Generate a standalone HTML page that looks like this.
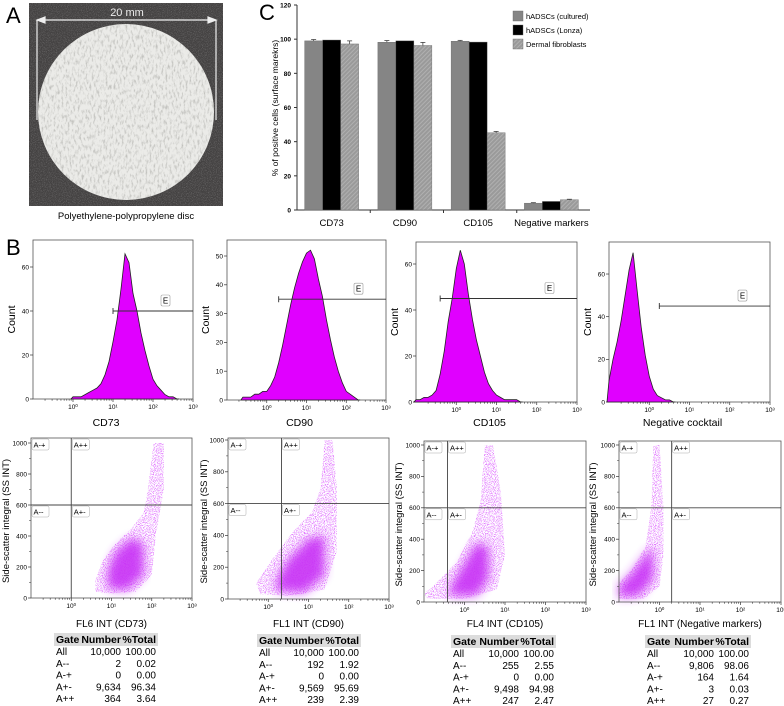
<!DOCTYPE html>
<html><head><meta charset="utf-8">
<style>
html,body{margin:0;padding:0;background:#fff;}
svg{display:block;font-family:"Liberation Sans",Arial,sans-serif;}
</style></head>
<body>
<svg id="fig" width="784" height="706" viewBox="0 0 784 706" xmlns="http://www.w3.org/2000/svg">
<defs>
<filter id="speckle" x="0" y="0" width="100%" height="100%">
<feTurbulence type="fractalNoise" baseFrequency="1.1" numOctaves="1" seed="3" result="n"/>
<feColorMatrix in="n" type="matrix" values="0 0 0 0 0  0 0 0 0 0  0 0 0 0 0  0 0 0 -7 3.6" result="m"/>
<feComposite in="SourceGraphic" in2="m" operator="in"/>
</filter>
<filter id="soft" x="-20%" y="-20%" width="140%" height="140%">
<feGaussianBlur stdDeviation="5"/>
</filter>
<filter id="fiber" x="0" y="0" width="100%" height="100%">
<feTurbulence type="fractalNoise" baseFrequency="0.5 0.2" numOctaves="3" seed="5" result="n"/>
<feColorMatrix in="n" type="matrix" values="0 0 0 0 0.35  0 0 0 0 0.35  0 0 0 0 0.33  0 0 0 -3 1.55" result="c"/>
<feComposite in="c" in2="SourceGraphic" operator="in"/>
</filter>
<filter id="grain" x="0" y="0" width="100%" height="100%">
<feTurbulence type="fractalNoise" baseFrequency="1.2" numOctaves="1" seed="7" result="n"/>
<feColorMatrix in="n" type="matrix" values="0 0 0 0 0.6  0 0 0 0 0.6  0 0 0 0 0.6  0 0 0 -3 1.6" result="c"/>
<feComposite in="c" in2="SourceGraphic" operator="in"/>
</filter>
<pattern id="hatch" width="3" height="3" patternUnits="userSpaceOnUse" patternTransform="rotate(45)">
<rect width="3" height="3" fill="#9a9a9a"/><rect width="1" height="3" fill="#b0b0b0"/>
</pattern>
</defs>

<!-- Panel A -->
<g>
<text x="6" y="23" font-size="22">A</text>
<rect x="29" y="3" width="194" height="203" fill="#444242"/>
<rect x="29" y="3" width="194" height="203" fill="#444242" filter="url(#grain)" opacity="0.3"/>
<circle cx="126" cy="112" r="88" fill="#ebebe8"/>
<circle cx="126" cy="112" r="88" fill="#ebebe8" filter="url(#fiber)" opacity="0.55"/>
<g stroke="#eee" stroke-width="1.2" fill="none">
<line x1="37" y1="20" x2="216" y2="20"/>
<line x1="37" y1="20" x2="37" y2="120"/>
<line x1="216" y1="20" x2="216" y2="120"/>
<path d="M37 20 l8 -3 v6z M216 20 l-8 -3 v6z" fill="#eee"/>
</g>
<text x="127" y="16" font-size="11" fill="#eee" text-anchor="middle">20 mm</text>
<text x="126" y="219" font-size="9.5" text-anchor="middle">Polyethylene-polypropylene disc</text>
</g>

<!-- Panel C -->
<g id="barchart">
<text x="259" y="20" font-size="22">C</text>
</g>

<text x="6" y="255" font-size="22">B</text>
<g id="hists"></g>
<g id="scatters"></g>
<g id="tables"></g>
</svg>

<script>
// ---------- Bar chart data ----------
const barCategories = ["CD73","CD90","CD105","Negative markers"];
const barSeriesNames = ["hADSCs (cultured)","hADSCs (Lonza)","Dermal fibroblasts"];
const culturedValues = [99.0, 98.2, 98.8, 4.0];
const lonzaValues = [99.5, 99.0, 98.3, 5.0];
const fibroValues = [97.2, 96.3, 45.2, 6.0];
const culturedErr = [0.8, 1.0, 0.5, 0.3];
const lonzaErr = [0, 0, 0, 0];
const fibroErr = [1.8, 1.8, 0.8, 0.3];
const barYTicks = [0,20,40,60,80,100,120];

// ---------- Histogram data (counts per 0.1-decade bin) ----------
const histStartCD73 = 0.0;
const histCD73 = [1,1,1,2,3,4,5,7,11,17,26,36,50,66,62,48,40,30,22,15,9,6,4,2,1,1,0];
const histStartCD90 = -0.6;
const histCD90 = [1,1,1,2,2,3,3,5,8,13,19,26,33,39,44,48,51,52,49,42,36,28,21,15,10,6,3,2,1,0];
const histStartCD105 = -1.0;
const histCD105 = [1,1,2,2,3,5,12,22,35,45,58,66,60,47,36,27,20,13,8,5,3,2,1,1,1,1,0];
const histStartNeg = -1.0;
const histNeg = [10,20,28,38,50,62,70,52,35,22,12,6,3,2,1,1,0];
const histXLabels = ["CD73","CD90","CD105","Negative cocktail"];
const histGates = [1.0, 0.3, -0.4, 0.25];
const histGateLevels = [40, 35, 45, 45];
const histYTicks1 = [0,20,40,60];
const histYTicks2 = [0,10,20,30,40,50];
const histYTicks3 = [0,20,40,60];
const histYTicks4 = [0,20,40,60];

// ---------- Scatter cloud outlines (log10 fluorescence, side scatter) ----------
const cloudCD73 = [[0.6,40],[1.0,30],[1.6,40],[2.0,150],[2.1,400],[2.3,700],[2.3,1000],[2.05,1000],[1.9,700],[1.8,550],[1.5,450],[1.1,350],[0.8,250],[0.6,120]];
const coreCD73 = [[0.9,60],[1.4,50],[1.8,150],[1.8,350],[1.5,390],[1.1,300],[0.9,180]];
const cloudCD90 = [[-0.2,30],[0.6,20],[1.4,60],[1.7,300],[1.7,700],[1.6,1000],[1.4,1000],[1.3,700],[1.1,550],[0.6,420],[0.1,250],[-0.3,100]];
const coreCD90 = [[0.2,50],[0.9,40],[1.4,150],[1.4,400],[1.0,380],[0.5,250],[0.2,120]];
const cloudCD105 = [[-0.9,20],[0,20],[0.8,80],[1.0,300],[0.9,700],[0.7,1000],[0.5,1000],[0.4,650],[0.2,450],[-0.2,250],[-0.7,120],[-1,50]];
const coreCD105 = [[-0.4,40],[0.3,40],[0.6,150],[0.6,350],[0.3,380],[0,250],[-0.3,120]];
const cloudNeg = [[-1,20],[-0.4,20],[0.0,100],[0.1,300],[0.1,600],[0.0,1000],[-0.15,1000],[-0.2,600],[-0.35,350],[-0.7,200],[-1,120]];
const coreNeg = [[-1,30],[-0.5,40],[-0.15,150],[-0.15,350],[-0.35,300],[-0.7,180],[-1,100]];
const scatterXLabels = ["FL6 INT (CD73)","FL1 INT (CD90)","FL4 INT (CD105)","FL1 INT (Negative markers)"];
const quadX = [0, 0.33, -0.42, 0.3];
const quadY = [600, 600, 600, 600];
const scatterYTicks = [0,200,400,600,800,1000];

// ---------- Gate tables ----------
const gateNames = ["All","A--","A-+","A+-","A++"];
const numbersCD73 = ["10,000","2","0","9,634","364"];
const pctCD73 = ["100.00","0.02","0.00","96.34","3.64"];
const numbersCD90 = ["10,000","192","0","9,569","239"];
const pctCD90 = ["100.00","1.92","0.00","95.69","2.39"];
const numbersCD105 = ["10,000","255","0","9,498","247"];
const pctCD105 = ["100.00","2.55","0.00","94.98","2.47"];
const numbersNeg = ["10,000","9,806","164","3","27"];
const pctNeg = ["100.00","98.06","1.64","0.03","0.27"];

const NS = "http://www.w3.org/2000/svg";
function mk(tag, attrs, parent){
  const e = document.createElementNS(NS, tag);
  for (const k in attrs) e.setAttribute(k, attrs[k]);
  if (parent) parent.appendChild(e);
  return e;
}
function txt(parent, x, y, s, size, anchor, extra){
  const t = mk("text", Object.assign({x:x, y:y, "font-size":size, "text-anchor":anchor||"start"}, extra||{}), parent);
  t.textContent = s;
  return t;
}

// ===== Bar chart =====
(function(){
  const g = document.getElementById("barchart");
  const L = 297, R = 590, T = 5, B = 210, yMax = 120;
  const y = v => B - v/yMax*(B-T);
  const catW = (R - L) / barCategories.length;
  const cx = i => L + catW*(i+0.5) - 2;
  const bw = 18;
  const ax = mk("line",{x1:L,y1:T,x2:L,y2:B,stroke:"#333","stroke-width":1},g);
  
  
  const xa = mk("line",{x1:L,y1:B,x2:R,y2:B,stroke:"#333","stroke-width":1},g);
  
  
  barYTicks.forEach(v=>{
    mk("line",{x1:L-3,y1:y(v),x2:L,y2:y(v),stroke:"#333"},g);
    const t = txt(g, L-6, y(v)+2.5, String(v), 6.5, "end", {"font-weight":"bold"});
    
    
  });
  for (let i=1;i<barCategories.length;i++){
    mk("line",{x1:L+catW*i,y1:B,x2:L+catW*i,y2:B+3,stroke:"#333"},g);
  }
  const yt = txt(g, 0, 0, "% of positive cells (surface marekrs)", 8.5, "middle", {transform:"translate(278,108) rotate(-90)"});
  
  
  const series = [[culturedValues,culturedErr,"#858585"],[lonzaValues,lonzaErr,"#000"],[fibroValues,fibroErr,"url(#hatch)"]];
  barCategories.forEach((c,i)=>{
    const lab = txt(g, cx(i), B+16, c, 9.5, "middle");
    
    
    series.forEach((s,j)=>{
      const v = s[0][i], e = s[1][i];
      const x = cx(i) + (j-1)*bw - bw/2;
      const r = mk("rect",{x:x,y:y(v),width:bw,height:B-y(v),fill:s[2],stroke:"#666","stroke-width":0.4},g);
      
      
      if (e>0){
        mk("line",{x1:x+bw/2,y1:y(v+e),x2:x+bw/2,y2:y(v),stroke:"#444","stroke-width":0.8},g);
        mk("line",{x1:x+bw/2-2.5,y1:y(v+e),x2:x+bw/2+2.5,y2:y(v+e),stroke:"#444","stroke-width":0.8},g);
      }
    });
  });
  const fills = ["#858585","#000","url(#hatch)"];
  barSeriesNames.forEach((n,j)=>{
    const ly = 11 + j*14;
    const sw = mk("rect",{x:513,y:ly,width:10,height:10,fill:fills[j],stroke:"#666","stroke-width":0.4},g);
    
    
    const t = txt(g, 526, ly+8, n, 7.5, "start");
    
    
  });
})();

// ===== Histograms =====
const histLayouts = [
  {l:33,r:193,t:240,b:399,ppu:2.2},
  {l:227,r:386,t:240,b:400,ppu:2.88},
  {l:416,r:577,t:242,b:402,ppu:2.3},
  {l:609,r:770,t:242,b:402,ppu:2.133}
];
const histData = [[histStartCD73,histCD73],[histStartCD90,histCD90],[histStartCD105,histCD105],[histStartNeg,histNeg]];
const histTicks = [histYTicks1,histYTicks2,histYTicks3,histYTicks4];
const supers = ["\u2070","\u00B9","\u00B2","\u00B3"];

function logAxis(g, L, R, B){
  const dec = (R-L)/4;
  for (let d=-1; d<3; d++){
    for (let m=2;m<=9;m++){
      const x = L + (d+1+Math.log10(m))*dec;
      mk("line",{x1:x,y1:B,x2:x,y2:B+1.8,stroke:"#333","stroke-width":0.6},g);
    }
  }
  for (let d=0; d<=3; d++){
    const x = L + (d+1)*dec;
    mk("line",{x1:x,y1:B,x2:x,y2:B+3,stroke:"#333","stroke-width":0.7},g);
    const t = txt(g, x, B+10, "10"+supers[d], 6.5, "middle");
    
    
  }
}

histLayouts.forEach((lay,i)=>{
  const g = mk("g",{},document.getElementById("hists"));
  
  
  const dec = (lay.r-lay.l)/4;
  const xs = lg => lay.l + (lg+1)*dec;
  const ys = v => lay.b - v*lay.ppu;
  mk("rect",{x:lay.l,y:lay.t,width:lay.r-lay.l,height:lay.b-lay.t,fill:"none",stroke:"#555","stroke-width":0.8},g);
  logAxis(g, lay.l, lay.r, lay.b);
  histTicks[i].forEach(v=>{
    mk("line",{x1:lay.l-3,y1:ys(v),x2:lay.l,y2:ys(v),stroke:"#333","stroke-width":0.7},g);
    const t = txt(g, lay.l-4, ys(v)+2.3, String(v), 6.5, "end");
    
    
  });
  const [start, counts] = histData[i];
  let d = "M"+xs(start-0.05)+" "+lay.b;
  counts.forEach((c,k)=>{ d += " L"+xs(start+k*0.1).toFixed(1)+" "+ys(c).toFixed(1); });
  d += " L"+xs(start+(counts.length-1)*0.1+0.05)+" "+lay.b+" Z";
  const p = mk("path",{d:d,fill:"#e000ff",stroke:"#222","stroke-width":0.8},g);
  
  
  const gy = ys(histGateLevels[i]), gx = xs(histGates[i]);
  const gl = mk("path",{d:"M"+gx+" "+gy+" H"+lay.r+" M"+gx+" "+(gy-3)+" V"+(gy+3),stroke:"#333","stroke-width":0.9,fill:"none"},g);
  
  
  const ex = lay.r - 28;
  mk("rect",{x:ex-4,y:gy-16,width:9,height:11,fill:"#fff",stroke:"#999","stroke-width":0.6,rx:1.5},g);
  const el = txt(g, ex+0.5, gy-7.5, "E", 8, "middle");
  
  
  const xl = txt(g, (lay.l+lay.r)/2 - 7, 426, histXLabels[i], 10.5, "middle");
  
  
  const yl = txt(g, 0, 0, "Count", 10.5, "middle", {transform:"translate("+(lay.l-18)+","+((lay.t+lay.b)/2)+") rotate(-90)"});
  
  
});

// ===== Scatter plots =====
const scLayouts = [
  {l:31,r:192,t:438,b:598,ppu:0.155,yl:9},
  {l:228,r:389,t:438,b:599,ppu:0.159,yl:207},
  {l:424,r:586,t:441,b:602,ppu:0.157,yl:402},
  {l:619,r:781,t:441,b:602,ppu:0.157,yl:596}
];
const clouds = [[cloudCD73,coreCD73],[cloudCD90,coreCD90],[cloudCD105,coreCD105],[cloudNeg,coreNeg]];
scLayouts.forEach((lay,i)=>{
  const g = mk("g",{},document.getElementById("scatters"));
  
  
  const dec = (lay.r-lay.l)/4;
  const xs = lg => lay.l + (lg+1)*dec;
  const ys = v => lay.b - v*lay.ppu;
  const poly = pts => pts.map(p=>xs(p[0]).toFixed(1)+","+ys(p[1]).toFixed(1)).join(" ");
  const c1 = mk("polygon",{points:poly(clouds[i][0]),fill:"#e070ff",opacity:0.9,filter:"url(#speckle)"},g);
  
  
  const c2 = mk("polygon",{points:poly(clouds[i][1]),fill:"#c830f5",opacity:0.9,filter:"url(#soft)"},g);
  
  
  mk("rect",{x:lay.l,y:lay.t,width:lay.r-lay.l,height:lay.b-lay.t,fill:"none",stroke:"#555","stroke-width":0.8},g);
  logAxis(g, lay.l, lay.r, lay.b);
  scatterYTicks.forEach(v=>{
    mk("line",{x1:lay.l-3,y1:ys(v),x2:lay.l,y2:ys(v),stroke:"#333","stroke-width":0.7},g);
    if (v<1000) mk("line",{x1:lay.l-2,y1:ys(v+100),x2:lay.l,y2:ys(v+100),stroke:"#333","stroke-width":0.5},g);
    const t = txt(g, lay.l-4, ys(v)+2.3, String(v), 6.5, "end");
    
    
  });
  const qx = xs(quadX[i]), qy = ys(quadY[i]);
  const ql = mk("path",{d:"M"+qx+" "+lay.t+" V"+lay.b+" M"+lay.l+" "+qy+" H"+lay.r,stroke:"#444","stroke-width":0.9,fill:"none"},g);
  
  
  [["A-+",lay.l,lay.t],["A++",qx,lay.t],["A--",lay.l,qy],["A+-",qx,qy]].forEach(q=>{
    mk("rect",{x:q[1]+1,y:q[2]+1,width:17,height:11,fill:"#fff",stroke:"#aaa","stroke-width":0.5,rx:1.5},g);
    const t = txt(g, q[1]+2.5, q[2]+9.5, q[0], 7.5, "start");
    
    
  });
  const xl = txt(g, (lay.l+lay.r)/2, 627, scatterXLabels[i], 10, "middle");
  
  
  const yl = txt(g, 0, 0, "Side-scatter integral (SS INT)", 9.5, "middle", {transform:"translate("+lay.yl+","+((lay.t+lay.b)/2+3)+") rotate(-90)"});
  
  
});

// ===== Tables =====
const tblLayouts = [
  {l:56,nr:121,pr:156,hy:643},
  {l:259,nr:324,pr:359,hy:644},
  {l:453,nr:519,pr:554,hy:645},
  {l:647,nr:714,pr:749,hy:645}
];
const tblNums = [numbersCD73,numbersCD90,numbersCD105,numbersNeg];
const tblPcts = [pctCD73,pctCD90,pctCD105,pctNeg];
tblLayouts.forEach((lay,i)=>{
  const g = mk("g",{},document.getElementById("tables"));
  
  
  mk("rect",{x:lay.l-2,y:lay.hy-10,width:lay.pr-lay.l+4,height:13,fill:"#dcdcdc"},g);
  const h1 = txt(g, lay.l, lay.hy, "Gate", 10.5, "start", {"font-weight":"bold"});
  
  
  txt(g, lay.nr, lay.hy, "Number", 10.5, "end", {"font-weight":"bold"});
  txt(g, lay.pr, lay.hy, "%Total", 10.5, "end", {"font-weight":"bold"});
  gateNames.forEach((n,k)=>{
    const yy = lay.hy + 12 + k*11.8;
    const t = txt(g, lay.l, yy, n, 10, "start");
    
    
    txt(g, lay.nr, yy, tblNums[i][k], 10, "end");
    txt(g, lay.pr, yy, tblPcts[i][k], 10, "end");
  });
});
</script>
</body></html>
